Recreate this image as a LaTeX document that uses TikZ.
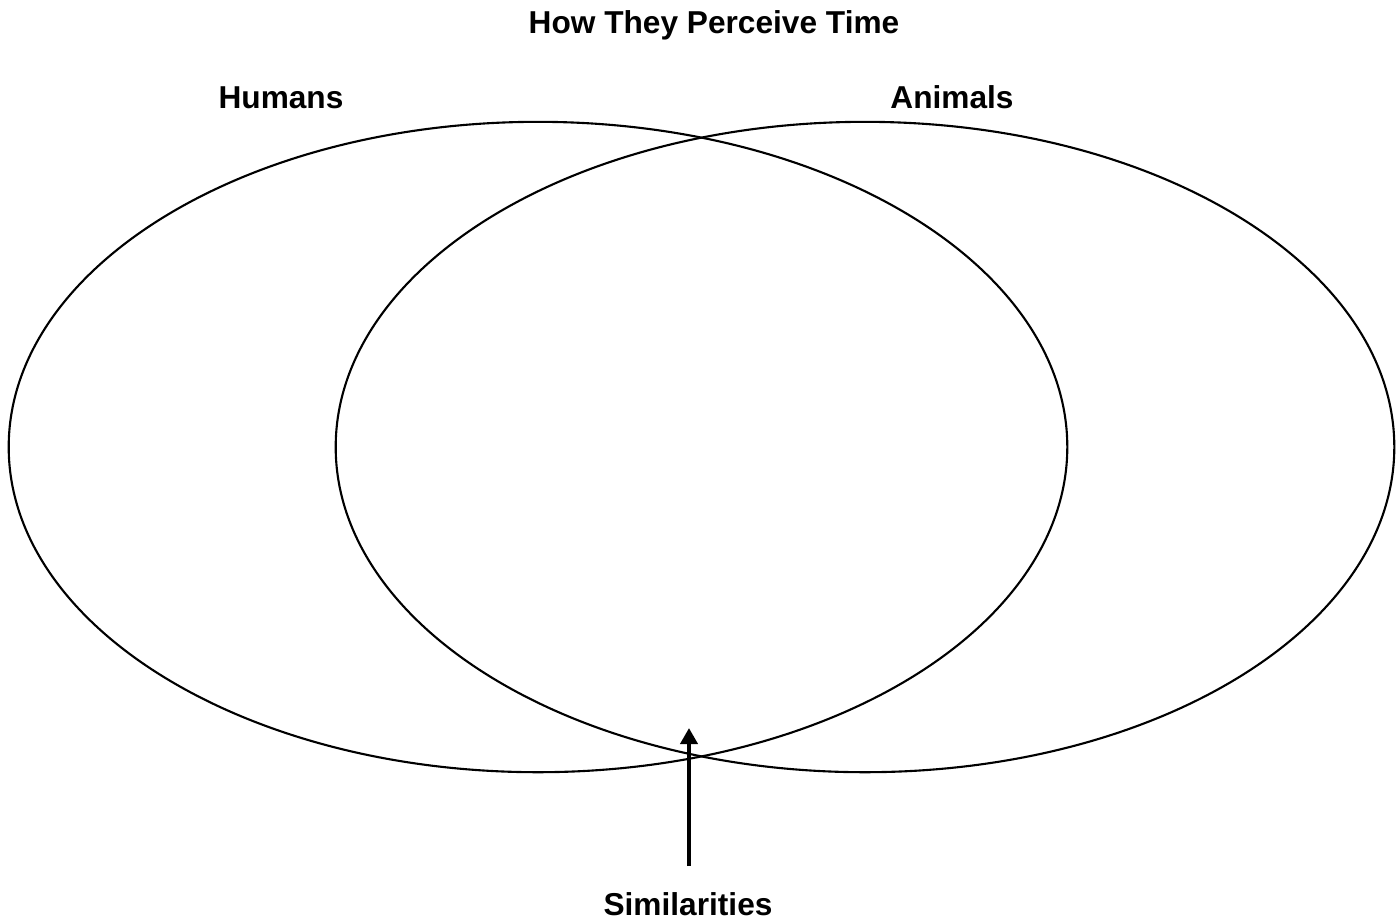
\documentclass[tikz,border=0pt]{standalone}
\usepackage{fontspec}
\setmainfont{Liberation Sans}
\usetikzlibrary{arrows.meta}
\usetikzlibrary{shapes.geometric}
\tikzset{
  set/.style={draw, ellipse, line width=0.6pt, inner sep=0pt, minimum width=10.58cm, minimum height=6.5cm},
  label text/.style={font=\fontsize{9}{11}\selectfont\bfseries, anchor=base, inner sep=0pt},
}

\begin{document}
\begin{tikzpicture}[x=0.01cm, y=-0.01cm]
\useasboundingbox (0,0) rectangle (1400,920);
\node[label text] (title) at (714,33) {How They Perceive Time};
\foreach \v/\w/\t/\l in {538/humans/Humans/281, 865/animals/Animals/952}{
    \node[set] (\w) at (\v,447) {};
    \node[label text] (\w-label) at (\l,108) {\t};
}
\coordinate (simtip) at (689,728);
\coordinate (simbase) at (689,866);
\draw [line width=1.1pt, -{Triangle[length=0.16cm, width=0.17cm]}] (simbase) -- (simtip);
\node[label text] (similar) at (688,915) {Similarities};
\end{tikzpicture}
\end{document}
